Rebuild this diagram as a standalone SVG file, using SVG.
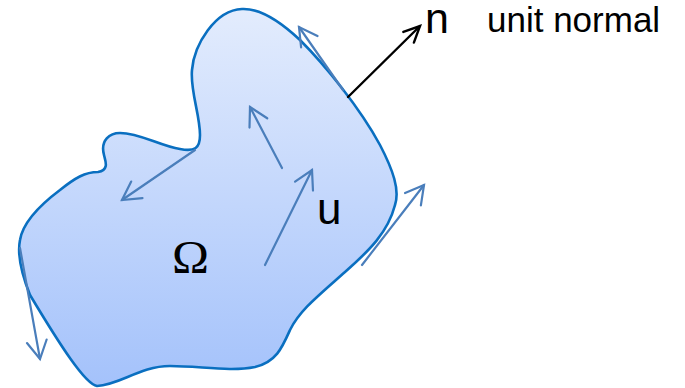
<svg xmlns="http://www.w3.org/2000/svg" width="685" height="388" viewBox="0 0 685 388">
  <style>
    .blob { fill: url(#fillGrad); stroke: #0a6fc0; stroke-width: 2.6; stroke-linejoin: round; }
    .vec { fill: none; stroke: #4a7ebb; stroke-width: 2.2; stroke-linecap: round; marker-end: url(#headBlue); }
    .nvec { fill: none; stroke: #000000; stroke-width: 2.4; stroke-linecap: round; marker-end: url(#headBlack); }
    .sans { font-family: "Liberation Sans", Arial, sans-serif; fill: #000000; }
    .serif { font-family: "Liberation Serif", "Times New Roman", serif; fill: #000000; }
  </style>
  <defs>
    <linearGradient id="fillGrad" gradientUnits="userSpaceOnUse" x1="0" y1="9" x2="0" y2="386">
      <stop offset="0" stop-color="#e3ecfd"/>
      <stop offset="1" stop-color="#a4c2fb"/>
    </linearGradient>
    <marker id="headBlue" markerUnits="userSpaceOnUse" viewBox="-22 -14 26 28" refX="0" refY="0" markerWidth="26" markerHeight="28" orient="auto" overflow="visible">
      <path d="M -18,-10 L 0,0 L -18,10" fill="none" stroke="#4a7ebb" stroke-width="2.2" stroke-linecap="round" stroke-linejoin="miter"/>
    </marker>
    <marker id="headBlack" markerUnits="userSpaceOnUse" viewBox="-22 -14 26 28" refX="0" refY="0" markerWidth="26" markerHeight="28" orient="auto" overflow="visible">
      <path d="M -16,-7.5 L 0,0 L -16,7.5" fill="none" stroke="#000000" stroke-width="2.4" stroke-linecap="round" stroke-linejoin="miter"/>
    </marker>
  </defs>

  <g id="region">
    <path class="blob" d="M 242,9 C 262,8 283,24 300,40 C 325,65 360,108 380,145 C 393,170 400,190 395,205 C 388,232 370,250 345,272 C 318,296 300,310 290,330 C 282,348 276,362 255,367 C 230,372 200,366 170,366 C 140,366 120,385 97,386 C 85,384 60,345 30,295 C 22,275 17,255 20,240 C 23,222 40,205 60,190 C 75,178 85,172 98,172 C 110,170 105,160 104,155 C 100,140 110,133 120,133 C 140,133 160,146 180,149 C 195,152 200,148 200,135 C 200,115 190,90 192,70 C 194,45 215,10 242,9 Z"/>
    <text class="serif" x="172" y="273" font-size="46" textLength="37" lengthAdjust="spacingAndGlyphs">Ω</text>
  </g>

  <g id="connectors">
    <line class="vec" x1="343" y1="90" x2="299" y2="27"/>
    <line class="vec" x1="195" y1="150" x2="122" y2="200"/>
    <line class="vec" x1="282" y1="168" x2="250" y2="107"/>
    <line class="vec" x1="265" y1="265" x2="312" y2="170"/>
    <line class="vec" x1="362" y1="265" x2="424" y2="185"/>
    <line class="vec" x1="20" y1="248" x2="40" y2="359"/>
    <line class="nvec" x1="348" y1="97" x2="420" y2="26"/>
  </g>

  <g id="label-n">
    <text class="sans" x="425" y="33" font-size="43">n</text>
  </g>
  <g id="label-unit-normal">
    <text class="sans" x="487" y="32" font-size="35">unit normal</text>
  </g>
  <g id="label-u">
    <text class="sans" x="317" y="224" font-size="44">u</text>
  </g>
</svg>
